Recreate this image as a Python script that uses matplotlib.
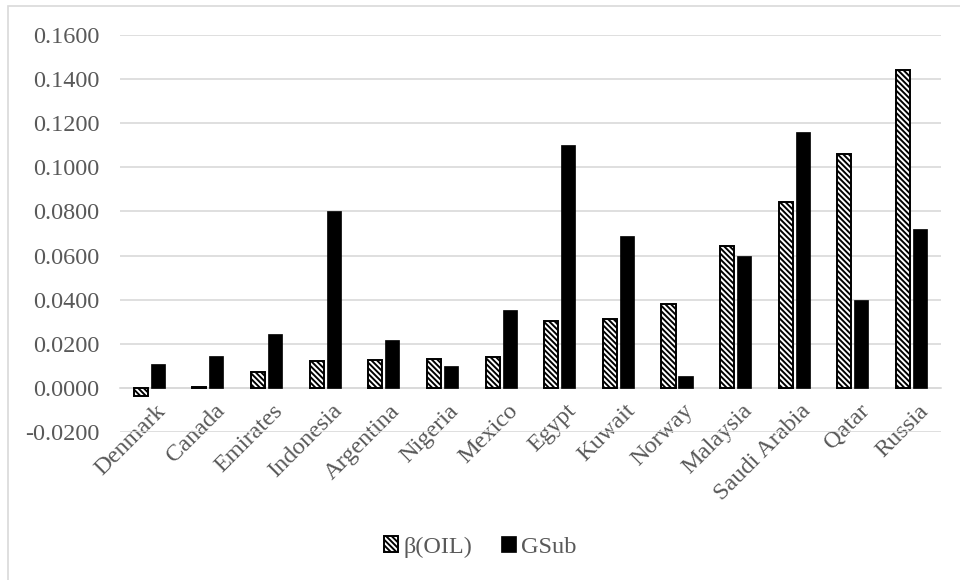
import matplotlib
matplotlib.use('Agg')
import matplotlib.pyplot as plt
import matplotlib.patches as mpatches
import matplotlib.transforms as mtransforms
import numpy as np

# Datos
paises = ['Denmark', 'Canada', 'Emirates', 'Indonesia', 'Argentina', 'Nigeria',
          'Mexico', 'Egypt', 'Kuwait', 'Norway', 'Malaysia', 'Saudi Arabia',
          'Qatar', 'Russia']
beta_oil = [-0.0036, 0.0005, 0.0070, 0.0124, 0.0127, 0.0130, 0.0142, 0.0302,
            0.0314, 0.0380, 0.0641, 0.0842, 0.1062, 0.1442]
gsub = [0.0109, 0.0144, 0.0245, 0.0801, 0.0217, 0.0101, 0.0355, 0.1103,
        0.0690, 0.0055, 0.0599, 0.1159, 0.0397, 0.0721]
yticks = np.arange(-0.02, 0.1601, 0.02)

plt.rcParams['font.family'] = ['Liberation Serif', 'DejaVu Serif']
plt.rcParams['hatch.linewidth'] = 1.4
gris = '#595959'
linea = '#d9d9d9'

fig = plt.figure(figsize=(9.6, 5.8), dpi=100)
ax = fig.add_axes([0.125, 0.2552, 0.855, 0.6845])

x = np.arange(len(paises))
ancho = 0.24
ax.bar(x - 0.145, beta_oil, ancho, facecolor='white', edgecolor='black',
       linewidth=1.4, hatch='\\' * 6, label='β(OIL)', zorder=3)
ax.bar(x + 0.145, gsub, ancho, color='black', edgecolor='black',
       linewidth=0.5, label='GSub', zorder=3)

ax.set_xlim(-0.5, len(paises) - 0.5)
ax.set_ylim(-0.02, 0.16)
ax.set_yticks(yticks)
ax.set_yticklabels([f'{v:.4f}' for v in yticks])
ax.yaxis.grid(True, color=linea, linewidth=1.2, zorder=0)

# eje de categorías cruzando en cero
ax.spines['bottom'].set_position(('data', 0))
ax.spines['bottom'].set_color(linea)
ax.spines['bottom'].set_linewidth(1.2)
for lado in ['top', 'right', 'left']:
    ax.spines[lado].set_visible(False)

ax.set_xticks(x)
ax.set_xticklabels(paises, rotation=45, ha='right', va='top',
                   rotation_mode='anchor')
ax.tick_params(axis='x', length=0, pad=9, labelsize=17.5, labelcolor=gris)
ax.tick_params(axis='y', length=0, pad=15, labelsize=17.5, labelcolor=gris)
desplaza = mtransforms.ScaledTranslation(6 / 100, 0, fig.dpi_scale_trans)
for t in ax.get_xticklabels():
    t.set_transform(t.get_transform() + desplaza)

leg = fig.legend(loc='center', bbox_to_anchor=(0.5, 0.057), ncol=2,
                 frameon=False, fontsize=17.5, handlelength=0.6,
                 handleheight=0.6, handletextpad=0.2, columnspacing=1.2)
for t in leg.get_texts():
    t.set_color(gris)

# borde exterior del gráfico
borde = mpatches.Rectangle((8 / 960, -0.05), 1.1, 1 - 6 / 580 + 0.05,
                           transform=fig.transFigure, fill=False,
                           edgecolor=linea, linewidth=1.2)
fig.add_artist(borde)

fig.savefig('out.png', dpi=100)
